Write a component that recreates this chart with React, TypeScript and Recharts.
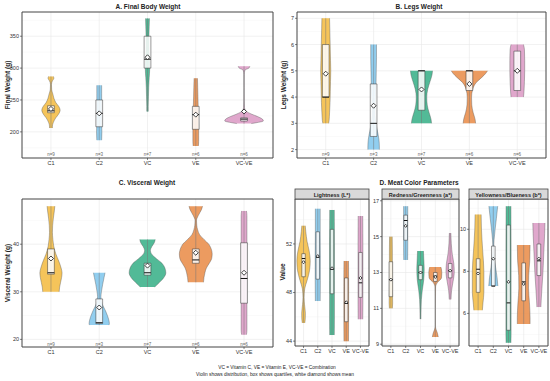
import React from 'react';
import {
  ComposedChart,
  Area,
  XAxis,
  YAxis,
  CartesianGrid,
  ReferenceArea,
  ReferenceLine,
  ReferenceDot,
} from 'recharts';

// [value, half-width in category units], top to bottom
type Profile = [number, number][];

const groups = ['C1', 'C2', 'VC', 'VE', 'VC-VE'];
const groupColors = ['#F4BF4C', '#88CAEE', '#43B48E', '#EA9253', '#DDA0C8'];
const groupN = ['n=9', 'n=3', 'n=7', 'n=6', 'n=6'];

// A. Final body weight
const weightViolins: Profile[] = [
  [[287, 0.05], [284, 0.06], [280, 0.03], [274, 0.01], [266, 0.015], [259, 0.04], [253, 0.06], [246, 0.1], [240, 0.16], [234, 0.19], [228, 0.16], [222, 0.1], [215, 0.05], [209, 0.03], [206, 0.03]],
  [[273, 0.05], [260, 0.05], [245, 0.05], [230, 0.05], [215, 0.05], [200, 0.055], [187, 0.05]],
  [[378, 0.04], [365, 0.035], [350, 0.03], [335, 0.03], [320, 0.035], [305, 0.045], [298, 0.045], [285, 0.035], [270, 0.025], [255, 0.02], [240, 0.015], [232, 0.015]],
  [[284, 0.035], [270, 0.04], [255, 0.045], [240, 0.05], [225, 0.055], [210, 0.06], [195, 0.06], [185, 0.06], [178, 0.055]],
  [[303, 0.12], [300, 0.1], [297, 0.02], [290, 0.003], [270, 0.002], [250, 0.003], [238, 0.01], [232, 0.05], [228, 0.15], [224, 0.28], [220, 0.38], [217, 0.4], [215, 0.3], [213, 0.15]],
];
const weightQ1 = [230, 208, 300, 204, 217];
const weightMedian = [233, 229, 314, 227, 220];
const weightQ3 = [241, 250, 350, 240, 222];
const weightMean = [236, 229, 317, 227, 232];

// B. Legs weight
const legsViolins: Profile[] = [
  [[7, 0.08], [6.6, 0.085], [6.2, 0.09], [5.8, 0.095], [5.4, 0.1], [5, 0.105], [4.6, 0.1], [4.2, 0.095], [3.8, 0.09], [3.4, 0.08], [3.1, 0.07], [3, 0.06]],
  [[6, 0.06], [5.5, 0.06], [5, 0.055], [4.5, 0.05], [4, 0.04], [3.6, 0.03], [3.3, 0.03], [3, 0.05], [2.7, 0.08], [2.4, 0.11], [2.1, 0.12], [2, 0.12]],
  [[5, 0.23], [4.85, 0.22], [4.6, 0.18], [4.3, 0.13], [4, 0.11], [3.7, 0.12], [3.4, 0.16], [3.15, 0.2], [3, 0.21]],
  [[5, 0.38], [4.9, 0.34], [4.75, 0.26], [4.55, 0.14], [4.3, 0.07], [4, 0.045], [3.7, 0.05], [3.4, 0.08], [3.15, 0.12], [3, 0.13]],
  [[6, 0.13], [5.8, 0.15], [5.4, 0.155], [5, 0.155], [4.6, 0.15], [4.2, 0.14], [4, 0.13]],
];
const legsQ1 = [4, 2.5, 3.5, 4.25, 4.25];
const legsMedian = [4, 3, 5, 5, 5];
const legsQ3 = [6, 4.5, 5, 5, 5.75];
const legsMean = [4.89, 3.67, 4.29, 4.5, 5];

// C. Visceral weight
const visceralViolins: Profile[] = [
  [[48, 0.08], [47, 0.07], [45.5, 0.05], [44, 0.035], [42.5, 0.03], [41, 0.04], [39.5, 0.06], [38, 0.1], [36.5, 0.16], [35, 0.21], [34, 0.23], [33, 0.22], [32, 0.2], [31, 0.18], [30, 0.17]],
  [[34, 0.12], [33, 0.1], [31.5, 0.07], [30, 0.045], [29, 0.035], [28, 0.045], [27, 0.08], [26, 0.13], [25, 0.17], [24, 0.2], [23.3, 0.21], [23, 0.2]],
  [[41, 0.16], [40.3, 0.14], [39.5, 0.09], [38.7, 0.06], [38, 0.08], [37, 0.18], [36, 0.3], [35, 0.36], [34, 0.38], [33, 0.34], [32, 0.25], [31.3, 0.18], [31, 0.15]],
  [[48, 0.14], [47.3, 0.12], [46, 0.05], [45, 0.015], [44, 0.02], [43, 0.04], [42, 0.08], [41, 0.17], [40, 0.27], [39, 0.32], [38, 0.34], [37, 0.33], [36, 0.28], [35, 0.22], [34, 0.19], [33, 0.17], [32, 0.16]],
  [[47, 0.05], [46, 0.06], [40, 0.06], [34, 0.06], [28, 0.06], [22, 0.06], [21, 0.05]],
];
const visceralQ1 = [33.7, 23.3, 33.5, 36, 27.6];
const visceralMedian = [34, 23.5, 34, 36.7, 32.8];
const visceralQ3 = [39, 28.5, 36, 39, 40.3];
const visceralMean = [37, 26.7, 35.5, 38.2, 34];

// D. Meat colour: L*
const lightViolins: Profile[] = [
  [[53.5, 0.12], [53, 0.16], [52.2, 0.25], [51.4, 0.4], [50.6, 0.47], [49.8, 0.42], [49, 0.25], [48.3, 0.08], [47.6, 0.04], [47, 0.07], [46.3, 0.13], [45.8, 0.12], [45.5, 0.09]],
  [[54.9, 0.17], [53, 0.17], [51, 0.18], [49, 0.18], [47.3, 0.17]],
  [[54.8, 0.16], [52, 0.17], [49, 0.17], [46, 0.17], [44.5, 0.16]],
  [[50.6, 0.16], [48.5, 0.17], [46.5, 0.17], [44, 0.16]],
  [[54.3, 0.16], [52, 0.17], [49, 0.17], [47, 0.17], [45.8, 0.16]],
];
const lightQ1 = [49.3, 49.1, 47.9, 45.6, 47.6];
const lightMedian = [50.8, 50.9, 49.9, 47.1, 48.8];
const lightQ3 = [51.2, 53.0, 53.2, 49.2, 51.3];
const lightMean = [50.5, 51.0, 50.0, 47.2, 49.2];

// a*
const redViolins: Profile[] = [
  [[15, 0.09], [14.2, 0.1], [13.4, 0.1], [12.6, 0.1], [11.8, 0.11], [11.3, 0.12], [11, 0.1]],
  [[16.7, 0.14], [16, 0.14], [15.2, 0.14], [14.4, 0.14], [13.7, 0.13]],
  [[14.2, 0.2], [13.8, 0.22], [13.2, 0.25], [12.6, 0.22], [12, 0.12], [11.5, 0.06], [11, 0.04], [10.4, 0.03]],
  [[13.3, 0.38], [13, 0.44], [12.7, 0.42], [12.45, 0.15], [12.2, 0.02], [11, 0.005], [10, 0.01], [9.8, 0.06], [9.6, 0.15], [9.4, 0.2]],
  [[15.2, 0.05], [14.6, 0.08], [14, 0.15], [13.5, 0.25], [13, 0.28], [12.5, 0.2], [12, 0.1], [11.5, 0.06]],
];
const redQ1 = [11.65, 14.8, 12.6, 12.5, 12.7];
const redMedian = [12.6, 15.9, 13.0, 12.8, 13.1];
const redQ3 = [13.6, 16.2, 13.4, 13.0, 13.5];
const redMean = [12.6, 15.6, 13.0, 12.75, 13.1];

// b*
const yellowViolins: Profile[] = [
  [[10.7, 0.2], [10, 0.22], [9, 0.3], [8, 0.38], [7, 0.38], [6.5, 0.32], [6.15, 0.28]],
  [[11.1, 0.29], [10.5, 0.2], [10, 0.12], [9.5, 0.05], [9.2, 0.03], [8.8, 0.06], [8.2, 0.15], [7.7, 0.25], [7.3, 0.3]],
  [[11.1, 0.16], [9, 0.17], [7, 0.17], [5, 0.17], [4.6, 0.16]],
  [[9.25, 0.42], [8.5, 0.4], [7.8, 0.33], [7.2, 0.32], [6.5, 0.38], [5.8, 0.42], [5.5, 0.42]],
  [[10.3, 0.4], [9.8, 0.38], [9, 0.33], [8, 0.27], [7.2, 0.2], [6.6, 0.15], [6.3, 0.13]],
];
const yellowQ1 = [7.0, 7.3, 5.2, 6.6, 7.8];
const yellowMedian = [8.1, 7.3, 6.5, 7.5, 8.5];
const yellowQ3 = [8.6, 9.2, 10.2, 8.4, 9.3];
const yellowMean = [7.9, 8.6, 7.5, 7.4, 8.6];

const FONT = 'Liberation Sans, Arial, sans-serif';

interface PanelProps {
  left: number;
  top: number;
  width: number;
  height: number;
  yWidth: number;
  marginRight: number;
  violins: Profile[];
  q1: number[];
  median: number[];
  q3: number[];
  mean: number[];
  domain: [number, number];
  ticks: number[];
  minorTicks: number[];
  nY?: number;
  boxHalf: number;
  diamond: number;
}

const ViolinPanel = (p: PanelProps) => {
  // one row per profile point; the other groups get an explicit [null, null] so the range area skips them
  const rows: any[] = [];
  p.violins.forEach((prof, g) =>
    prof.forEach(([y, w]) => {
      const row: any = { y };
      groups.forEach((_, k) => (row['g' + k] = [null, null]));
      row['g' + g] = [g - w, g + w];
      rows.push(row);
    })
  );
  const diamond = (s: any) => (
    <polygon
      points={`${s.cx},${s.cy - p.diamond} ${s.cx + p.diamond},${s.cy} ${s.cx},${s.cy + p.diamond} ${s.cx - p.diamond},${s.cy}`}
      fill="#fff"
      stroke="#111"
      strokeWidth={0.8}
    />
  );
  return (
    <div style={{ position: 'absolute', left: p.left, top: p.top }}>
      <ComposedChart
        layout="vertical"
        width={p.width}
        height={p.height}
        data={rows}
        margin={{ top: 12, right: p.marginRight, bottom: 0, left: 0 }}
        style={{ fontFamily: FONT }}
      >
        <CartesianGrid vertical={false} horizontalValues={p.minorTicks} stroke="#f4f4f4" strokeWidth={0.5} />
        <CartesianGrid verticalValues={[0, 1, 2, 3, 4]} horizontalValues={p.ticks} stroke="#e8e8e8" strokeWidth={0.6} />
        <XAxis
          type="number"
          domain={[-0.6, 4.6]}
          allowDataOverflow
          ticks={[0, 1, 2, 3, 4]}
          interval={0}
          tickFormatter={(v: number) => groups[v]}
          height={14}
          tickSize={2}
          tickMargin={1}
          axisLine={false}
          tickLine={{ stroke: '#333', strokeWidth: 0.6 }}
          tick={{ fontSize: 5.5, fill: '#333' }}
        />
        <YAxis
          type="number"
          dataKey="y"
          reversed
          domain={p.domain}
          allowDataOverflow
          ticks={p.ticks}
          interval={0}
          width={p.yWidth}
          tickSize={2}
          tickMargin={1}
          axisLine={false}
          tickLine={{ stroke: '#333', strokeWidth: 0.6 }}
          tick={{ fontSize: 5.5, fill: '#333' }}
        />
        {groups.map((g, i) => (
          <Area
            key={g}
            dataKey={'g' + i}
            type="monotone"
            connectNulls
            fill={groupColors[i]}
            fillOpacity={0.92}
            stroke="#555"
            strokeWidth={0.4}
            dot={false}
            activeDot={false}
            isAnimationActive={false}
          />
        ))}
        {groups.map((g, i) => (
          <ReferenceLine
            key={'w' + g}
            segment={[
              { x: i, y: p.violins[i][p.violins[i].length - 1][0] },
              { x: i, y: p.violins[i][0][0] },
            ]}
            stroke="#777"
            strokeWidth={0.5}
            zIndex={150}
          />
        ))}
        {groups.map((g, i) => (
          <ReferenceArea
            key={'b' + g}
            x1={i - p.boxHalf}
            x2={i + p.boxHalf}
            y1={p.q1[i]}
            y2={p.q3[i]}
            fill="#fff"
            fillOpacity={0.85}
            stroke="#333"
            strokeWidth={0.5}
            zIndex={200}
          />
        ))}
        {groups.map((g, i) => (
          <ReferenceLine
            key={'m' + g}
            segment={[
              { x: i - p.boxHalf, y: p.median[i] },
              { x: i + p.boxHalf, y: p.median[i] },
            ]}
            stroke="#111"
            strokeWidth={1}
            zIndex={250}
          />
        ))}
        {groups.map((g, i) => (
          <ReferenceDot key={'d' + g} x={i} y={p.mean[i]} r={p.diamond} shape={diamond} zIndex={300} />
        ))}
        {p.nY !== undefined &&
          groups.map((g, i) => (
            <ReferenceDot
              key={'n' + g}
              x={i}
              y={p.nY}
              r={1}
              zIndex={300}
              shape={(s: any) => (
                <text x={s.cx} y={s.cy} textAnchor="middle" dominantBaseline="central" fontSize={4.5} fill="#666" fontFamily={FONT}>
                  {groupN[i]}
                </text>
              )}
            />
          ))}
        <ReferenceArea
          x1={-0.6}
          x2={4.6}
          y1={p.domain[0]}
          y2={p.domain[1]}
          fill="none"
          stroke="#444"
          strokeWidth={1}
          ifOverflow="visible"
          zIndex={400}
        />
      </ComposedChart>
    </div>
  );
};

const titleStyle = { fontSize: 6.5, fontWeight: 700, fill: '#222', fontFamily: FONT } as const;

const Strip = ({ x1, x2, label }: { x1: number; x2: number; label: string }) => (
  <g>
    <rect x={x1} y={189} width={x2 - x1} height={10} fill="#d9d9d9" stroke="#444" strokeWidth={0.8} />
    <text x={(x1 + x2) / 2} y={194.5} textAnchor="middle" dominantBaseline="central" fontSize={5.5} fontWeight={700} fill="#222" fontFamily={FONT}>
      {label}
    </text>
  </g>
);

export default function App() {
  return (
    <div style={{ position: 'absolute', left: 0, top: 0, width: 550, height: 381, background: '#fff', overflow: 'hidden' }}>
      <ViolinPanel left={0} top={0} width={276} height={172} yWidth={22} marginRight={3}
        violins={weightViolins} q1={weightQ1} median={weightMedian} q3={weightQ3} mean={weightMean}
        domain={[159, 388]} ticks={[200, 250, 300, 350]} minorTicks={[175, 225, 275, 325, 375]} nY={164} boxHalf={0.07} diamond={2.5} />
      <ViolinPanel left={276} top={0} width={273} height={172} yWidth={21} marginRight={3}
        violins={legsViolins} q1={legsQ1} median={legsMedian} q3={legsQ3} mean={legsMean}
        domain={[1.68, 7.24]} ticks={[2, 3, 4, 5, 6, 7]} minorTicks={[2.5, 3.5, 4.5, 5.5, 6.5]} nY={1.8} boxHalf={0.07} diamond={2.5} />
      <ViolinPanel left={0} top={187} width={276} height={174} yWidth={22} marginRight={3}
        violins={visceralViolins} q1={visceralQ1} median={visceralMedian} q3={visceralQ3} mean={visceralMean}
        domain={[18.4, 49.5]} ticks={[20, 30, 40]} minorTicks={[25, 35, 45]} nY={19} boxHalf={0.07} diamond={2.5} />
      <ViolinPanel left={276} top={187} width={94} height={173} yWidth={19} marginRight={1}
        violins={lightViolins} q1={lightQ1} median={lightMedian} q3={lightQ3} mean={lightMean}
        domain={[43.6, 55.7]} ticks={[44, 48, 52]} minorTicks={[46, 50, 54]} boxHalf={0.12} diamond={1.5} />
      <ViolinPanel left={365} top={187} width={95} height={173} yWidth={17} marginRight={1}
        violins={redViolins} q1={redQ1} median={redMedian} q3={redQ3} mean={redMean}
        domain={[8.9, 17.1]} ticks={[9, 11, 13, 15, 17]} minorTicks={[10, 12, 14, 16]} boxHalf={0.12} diamond={1.5} />
      <ViolinPanel left={452} top={187} width={97} height={173} yWidth={17} marginRight={1}
        violins={yellowViolins} q1={yellowQ1} median={yellowMedian} q3={yellowQ3} mean={yellowMean}
        domain={[4.45, 11.44]} ticks={[6, 8, 10]} minorTicks={[5, 7, 9, 11]} boxHalf={0.12} diamond={1.5} />

      <svg width={550} height={381} style={{ position: 'absolute', left: 0, top: 0, pointerEvents: 'none' }}>
        <text x={148} y={9} textAnchor="middle" {...titleStyle}>A. Final Body Weight</text>
        <text x={419} y={9} textAnchor="middle" {...titleStyle}>B. Legs Weight</text>
        <text x={147} y={185} textAnchor="middle" {...titleStyle}>C. Visceral Weight</text>
        <text x={419} y={185} textAnchor="middle" {...titleStyle}>D. Meat Color Parameters</text>
        <text transform="translate(7,85) rotate(-90)" textAnchor="middle" dominantBaseline="central" {...titleStyle}>Final Weight (g)</text>
        <text transform="translate(283,85) rotate(-90)" textAnchor="middle" dominantBaseline="central" {...titleStyle}>Legs Weight (g)</text>
        <text transform="translate(7,273) rotate(-90)" textAnchor="middle" dominantBaseline="central" {...titleStyle}>Visceral Weight (g)</text>
        <text transform="translate(282,272) rotate(-90)" textAnchor="middle" dominantBaseline="central" {...titleStyle}>Value</text>
        <Strip x1={295} x2={369} label="Lightness (L*)" />
        <Strip x1={382} x2={459} label="Redness/Greenness (a*)" />
        <Strip x1={469} x2={548} label="Yellowness/Blueness (b*)" />
        <text x={277} y={369} textAnchor="middle" fontSize={4.8} fill="#222" fontFamily={FONT}>VC = Vitamin C, VE = Vitamin E, VC-VE = Combination</text>
        <text x={275} y={376} textAnchor="middle" fontSize={4.8} fill="#222" fontFamily={FONT}>Violin shows distribution, box shows quartiles, white diamond shows mean</text>
      </svg>
    </div>
  );
}
